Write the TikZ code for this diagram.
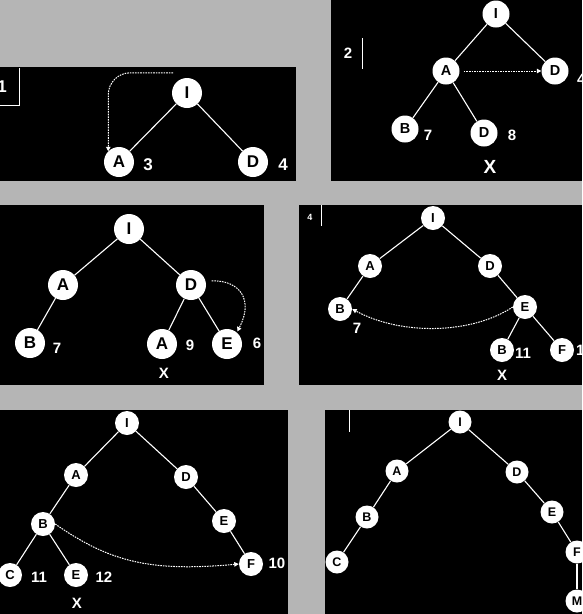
\documentclass[tikz,border=0pt]{standalone}
\usepackage{fontspec}
\setmainfont{Liberation Sans}
\usetikzlibrary{arrows.meta}
\pgfdeclarelayer{backlayer}
\pgfdeclarelayer{nodelayer}
\pgfdeclarelayer{edgelayer}
\pgfsetlayers{backlayer,edgelayer,nodelayer,main}
\definecolor{greybg}{gray}{0.71}
\tikzstyle{panel}=[fill=black, draw=none]
\tikzstyle{vtx}=[shape=circle, fill=white, draw=none, inner sep=0pt, text=black]
\tikzstyle{vbig}=[vtx, minimum size=30pt, font=\bfseries\fontsize{17}{17}\selectfont]
\tikzstyle{vmid}=[vtx, minimum size=27pt, font=\bfseries\fontsize{14.5}{14.5}\selectfont]
\tikzstyle{vsmall}=[vtx, minimum size=24pt, font=\bfseries\fontsize{13}{13}\selectfont]
\tikzstyle{vtiny}=[vtx, minimum size=23pt, font=\bfseries\fontsize{12.5}{12.5}\selectfont]
\tikzstyle{num}=[inner sep=0pt, text=white, font=\bfseries\fontsize{15}{15}\selectfont]
\tikzstyle{branch}=[draw=white, line width=1.1pt]
\tikzstyle{rule}=[draw=white, line width=0.9pt]
\tikzset{hop/.style={draw=white, line width=1pt, dash pattern=on 1.6pt off 1pt,
-{Triangle[length=4.5pt,width=4.5pt]}}}

\begin{document}
\begin{tikzpicture}[x=1pt, y=-1pt]
	\useasboundingbox (0, 0) rectangle (582, 614);
	\begin{pgfonlayer}{backlayer}
		\fill [greybg] (0, 0) rectangle (582, 614);
		\fill [style=panel] (0, 67) rectangle (296, 181);
		\fill [style=panel] (331, 0) rectangle (582, 181);
		\fill [style=panel] (0, 205) rectangle (264, 385);
		\fill [style=panel] (299, 205) rectangle (582, 385);
		\fill [style=panel] (0, 410) rectangle (288, 614);
		\fill [style=panel] (325, 410) rectangle (582, 614);
	\end{pgfonlayer}
	\begin{pgfonlayer}{nodelayer}
		% step 1
		\node [style=vbig] (p1i) at (187, 93) {I};
		\node [style=vbig] (p1a) at (119, 162) {A};
		\node [style=vbig] (p1d) at (253, 162) {D};
		\node [style=num, font=\bfseries\fontsize{17}{17}\selectfont] (p1n3) at (148, 165) {3};
		\node [style=num, font=\bfseries\fontsize{17}{17}\selectfont] (p1n4) at (283, 165) {4};
		\node [style=num, font=\bfseries\fontsize{17}{17}\selectfont] (p1tag) at (2, 87) {1};
		% step 2
		\node [style=vmid] (p2i) at (496, 14) {I};
		\node [style=vmid] (p2a) at (446, 71) {A};
		\node [style=vmid] (p2d) at (555, 71) {D};
		\node [style=vmid] (p2b) at (405, 129) {B};
		\node [style=vmid] (p2e) at (484, 133) {D};
		\node [style=num] (p2n4) at (577, 79) [anchor=west] {4};
		\node [style=num] (p2n7) at (428, 135) {7};
		\node [style=num] (p2n8) at (512, 135) {8};
		\node [style=num, font=\bfseries\fontsize{19}{19}\selectfont] (p2x) at (490, 167) {X};
		\node [style=num] (p2tag) at (348, 53) {2};
		% step 3
		\node [style=vbig] (p3i) at (129, 229) {I};
		\node [style=vbig] (p3a) at (63, 285) {A};
		\node [style=vbig] (p3d) at (191, 285) {D};
		\node [style=vbig] (p3b) at (30, 343) {B};
		\node [style=vbig] (p3c) at (162, 344) {A};
		\node [style=vbig] (p3e) at (227, 344) {E};
		\node [style=num] (p3n7) at (57, 348) {7};
		\node [style=num] (p3n9) at (190, 345) {9};
		\node [style=num] (p3n6) at (257, 343) {6};
		\node [style=num] (p3x) at (164, 373) {X};
		% step 4
		\node [style=vsmall] (p4i) at (433, 218) {I};
		\node [style=vsmall] (p4a) at (370, 266) {A};
		\node [style=vsmall] (p4d) at (490, 266) {D};
		\node [style=vsmall] (p4b) at (340, 309) {B};
		\node [style=vsmall] (p4e) at (525, 307) {E};
		\node [style=vsmall] (p4g) at (502, 350) {B};
		\node [style=vsmall] (p4f) at (562, 350) {F};
		\node [style=num] (p4n7) at (357, 328) {7};
		\node [style=num] (p4n11) at (523, 353) {11};
		\node [style=num] (p4n10) at (576, 350) [anchor=west] {10};
		\node [style=num] (p4x) at (502, 375) {X};
		\node [style=num, font=\bfseries\fontsize{9}{9}\selectfont] (p4tag) at (310, 217) {4};
		% step 5
		\node [style=vsmall] (p5i) at (127, 423) {I};
		\node [style=vsmall] (p5a) at (76, 475) {A};
		\node [style=vsmall] (p5d) at (186, 477) {D};
		\node [style=vsmall] (p5b) at (43, 524) {B};
		\node [style=vsmall] (p5e) at (224, 521) {E};
		\node [style=vsmall] (p5c) at (10, 575) {C};
		\node [style=vsmall] (p5g) at (76, 575) {E};
		\node [style=vsmall] (p5f) at (251, 564) {F};
		\node [style=num] (p5n11) at (39, 577) {11};
		\node [style=num] (p5n12) at (104, 577) {12};
		\node [style=num] (p5n10) at (277, 563) {10};
		\node [style=num] (p5x) at (77, 603) {X};
		% step 6
		\node [style=vtiny] (p6i) at (460, 422) {I};
		\node [style=vtiny] (p6a) at (397, 471) {A};
		\node [style=vtiny] (p6d) at (517, 472) {D};
		\node [style=vtiny] (p6b) at (367, 517) {B};
		\node [style=vtiny] (p6e) at (552, 512) {E};
		\node [style=vtiny] (p6c) at (337, 562) {C};
		\node [style=vtiny] (p6f) at (577, 552) {F};
		\node [style=vtiny] (p6m) at (577, 601) {M};
	\end{pgfonlayer}
	\begin{pgfonlayer}{edgelayer}
		\draw [style=branch] (p1i) to (p1a);
		\draw [style=branch] (p1i) to (p1d);
		\draw [style=hop, rounded corners=22pt] ([xshift=-14pt, yshift=5pt]p1i.north) -| (p1a.north west);
		\draw [style=rule] (19, 68) -- (19, 105) -- (0, 105);

		\draw [style=branch] (p2i) to (p2a);
		\draw [style=branch] (p2i) to (p2d);
		\draw [style=branch] (p2a) to (p2b);
		\draw [style=branch] (p2a) to (p2e);
		\draw [style=hop, shorten <=4pt] (p2a.east) -- (p2d.west);
		\draw [style=rule] (362, 38) -- (362, 69);

		\draw [style=branch] (p3i) to (p3a);
		\draw [style=branch] (p3i) to (p3d);
		\draw [style=branch] (p3a) to (p3b);
		\draw [style=branch] (p3d) to (p3c);
		\draw [style=branch] (p3d) to (p3e);
		\draw [style=hop, shorten <=6pt, shorten >=1pt] (p3d.15) .. controls (240, 280) and (254, 300) .. (p3e.50);

		\draw [style=branch] (p4i) to (p4a);
		\draw [style=branch] (p4i) to (p4d);
		\draw [style=branch] (p4a) to (p4b);
		\draw [style=branch] (p4d) to (p4e);
		\draw [style=branch] (p4e) to (p4g);
		\draw [style=branch] (p4e) to (p4f);
		\draw [style=hop] (p4e.west) .. controls (470, 335) and (400, 335) .. (p4b.east);
		\draw [style=rule] (321, 205) -- (321, 226);

		\draw [style=branch] (p5i) to (p5a);
		\draw [style=branch] (p5i) to (p5d);
		\draw [style=branch] (p5a) to (p5b);
		\draw [style=branch] (p5b) to (p5c);
		\draw [style=branch] (p5b) to (p5g);
		\draw [style=branch] (p5d) to (p5e);
		\draw [style=branch] (p5e) to (p5f);
		\draw [style=hop] (p5b.east) .. controls (110, 562) and (150, 572) .. (p5f.west);

		\draw [style=branch] (p6i) to (p6a);
		\draw [style=branch] (p6i) to (p6d);
		\draw [style=branch] (p6a) to (p6b);
		\draw [style=branch] (p6b) to (p6c);
		\draw [style=branch] (p6d) to (p6e);
		\draw [style=branch] (p6e) to (p6f);
		\draw [style=branch] (p6f) to (p6m);
		\draw [style=rule] (349, 410) -- (349, 432);
	\end{pgfonlayer}
\end{tikzpicture}
\end{document}
